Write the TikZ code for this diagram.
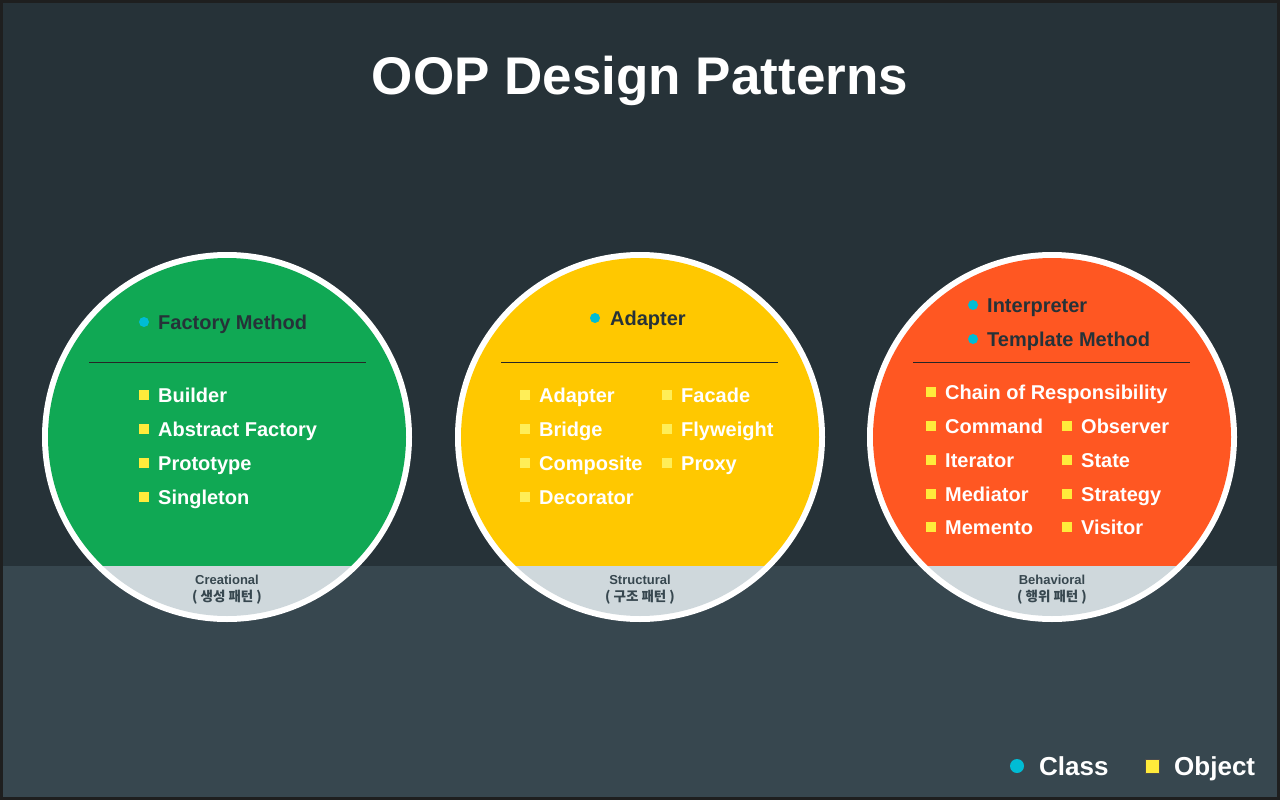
\documentclass[tikz,border=0pt]{standalone}
\usepackage{fontspec}
\setmainfont{Liberation Sans}
\newfontfamily\krfont{Noto Sans CJK KR}
\definecolor{bgtop}{HTML}{263238}
\definecolor{bgbot}{HTML}{37474F}
\definecolor{frame}{HTML}{1E1F1F}
\definecolor{cgreen}{HTML}{10A854}
\definecolor{cyellow}{HTML}{FFC800}
\definecolor{corange}{HTML}{FF5722}
\definecolor{cgrey}{HTML}{CFD8DC}
\definecolor{ccyan}{HTML}{00BCD4}
\definecolor{cyel}{HTML}{FFEB3B}
\definecolor{cyelpale}{HTML}{FFEE58}
\definecolor{dtext}{HTML}{263238}
\definecolor{lbltext}{HTML}{37474F}
\tikzset{
  objitem/.style={anchor=base west, inner sep=0pt, text=white, font=\fontsize{20}{24}\selectfont\bfseries, yshift=-7.2pt},
  clsitem/.style={anchor=base west, inner sep=0pt, text=dtext, font=\fontsize{20}{24}\selectfont\bfseries, yshift=-7.2pt},
  objsq/.style={fill=cyel, minimum size=9.5pt, inner sep=0pt, rectangle},
  clsdot/.style={fill=ccyan, minimum size=10pt, inner sep=0pt, circle},
  divider/.style={draw=black!85, line width=0.9pt},
  lbl/.style={anchor=center, inner sep=0pt, text=lbltext, font=\fontsize{13}{15}\selectfont\bfseries},
  klbl/.style={anchor=center, inner sep=0pt, text=lbltext, font=\fontsize{13.5}{15}\selectfont\krfont\bfseries},
}
\newcommand\patcircle[2]{%
  \fill[white] (#1,437) circle[radius=185pt];
  \begin{scope}
    \clip (#1,437) circle[radius=179pt];
    \fill[#2] (#1-190,240) rectangle (#1+190,566);
    \fill[cgrey] (#1-190,566) rectangle (#1+190,640);
  \end{scope}}
\begin{document}
\begin{tikzpicture}[x=1pt,y=-1pt]
\useasboundingbox (0,0) rectangle (1280,800);
% background
\fill[frame] (0,0) rectangle (1280,800);
\fill[bgtop] (3,3) rectangle (1277,797);
\fill[bgbot] (3,566) rectangle (1277,797);
% title
\node[text=white, font=\fontsize{53}{60}\selectfont\bfseries, inner sep=0pt, anchor=base, yshift=-19pt] (title) at (640,76) {OOP Design Patterns};
% circles
\patcircle{227}{cgreen}
\patcircle{640}{cyellow}
\patcircle{1052}{corange}
% ---- Creational
\node[clsdot] (c1d) at (144,322) {};
\node[clsitem] (c1) at (158,322) {Factory Method};
\draw[divider] (89,362) -- (366,362);
\node[objsq] (o1s) at (144,395) {};
\node[objitem] (o1) at (158,395) {Builder};
\node[objsq] (o2s) at (144,429) {};
\node[objitem] (o2) at (158,429) {Abstract Factory};
\node[objsq] (o3s) at (144,463) {};
\node[objitem] (o3) at (158,463) {Prototype};
\node[objsq] (o4s) at (144,497) {};
\node[objitem] (o4) at (158,497) {Singleton};
\node[lbl] (l1) at (227,580) {Creational};
\node[klbl] (k1) at (227,597) {( 생성 패턴 )};
% ---- Structural
\node[clsdot] (c2d) at (595,318) {};
\node[clsitem] (c2) at (610,318) {Adapter};
\draw[divider] (501,362) -- (778,362);
\node[objsq, fill=cyelpale] (s1s) at (525,395) {};
\node[objitem] (s1) at (539,395) {Adapter};
\node[objsq, fill=cyelpale] (s2s) at (525,429) {};
\node[objitem] (s2) at (539,429) {Bridge};
\node[objsq, fill=cyelpale] (s3s) at (525,463) {};
\node[objitem] (s3) at (539,463) {Composite};
\node[objsq, fill=cyelpale] (s4s) at (525,497) {};
\node[objitem] (s4) at (539,497) {Decorator};
\node[objsq, fill=cyelpale] (s5s) at (667,395) {};
\node[objitem] (s5) at (681,395) {Facade};
\node[objsq, fill=cyelpale] (s6s) at (667,429) {};
\node[objitem] (s6) at (681,429) {Flyweight};
\node[objsq, fill=cyelpale] (s7s) at (667,463) {};
\node[objitem] (s7) at (681,463) {Proxy};
\node[lbl] (l2) at (640,580) {Structural};
\node[klbl] (k2) at (640,597) {( 구조 패턴 )};
% ---- Behavioral
\node[clsdot] (c3d) at (973,305) {};
\node[clsitem] (c3) at (987,305) {Interpreter};
\node[clsdot] (c4d) at (973,339) {};
\node[clsitem] (c4) at (987,339) {Template Method};
\draw[divider] (913,362) -- (1190,362);
\node[objsq] (b1s) at (931,392) {};
\node[objitem] (b1) at (945,392) {Chain of Responsibility};
\node[objsq] (b2s) at (931,426) {};
\node[objitem] (b2) at (945,426) {Command};
\node[objsq] (b3s) at (931,460) {};
\node[objitem] (b3) at (945,460) {Iterator};
\node[objsq] (b4s) at (931,494) {};
\node[objitem] (b4) at (945,494) {Mediator};
\node[objsq] (b5s) at (931,527) {};
\node[objitem] (b5) at (945,527) {Memento};
\node[objsq] (b6s) at (1067,426) {};
\node[objitem] (b6) at (1081,426) {Observer};
\node[objsq] (b7s) at (1067,460) {};
\node[objitem] (b7) at (1081,460) {State};
\node[objsq] (b8s) at (1067,494) {};
\node[objitem] (b8) at (1081,494) {Strategy};
\node[objsq] (b9s) at (1067,527) {};
\node[objitem] (b9) at (1081,527) {Visitor};
\node[lbl] (l3) at (1052,580) {Behavioral};
\node[klbl] (k3) at (1052,597) {( 행위 패턴 )};
% ---- Legend
\node[clsdot, minimum size=14pt] (lgd) at (1017,766) {};
\node[objitem, font=\fontsize{26}{30}\selectfont\bfseries, yshift=-2.1pt] (lgc) at (1039,766) {Class};
\node[objsq, minimum size=14pt, draw=black!70, line width=0.6pt] (lgs) at (1152,766) {};
\node[objitem, font=\fontsize{26}{30}\selectfont\bfseries, yshift=-2.1pt] (lgo) at (1174,766) {Object};
\end{tikzpicture}
\end{document}
